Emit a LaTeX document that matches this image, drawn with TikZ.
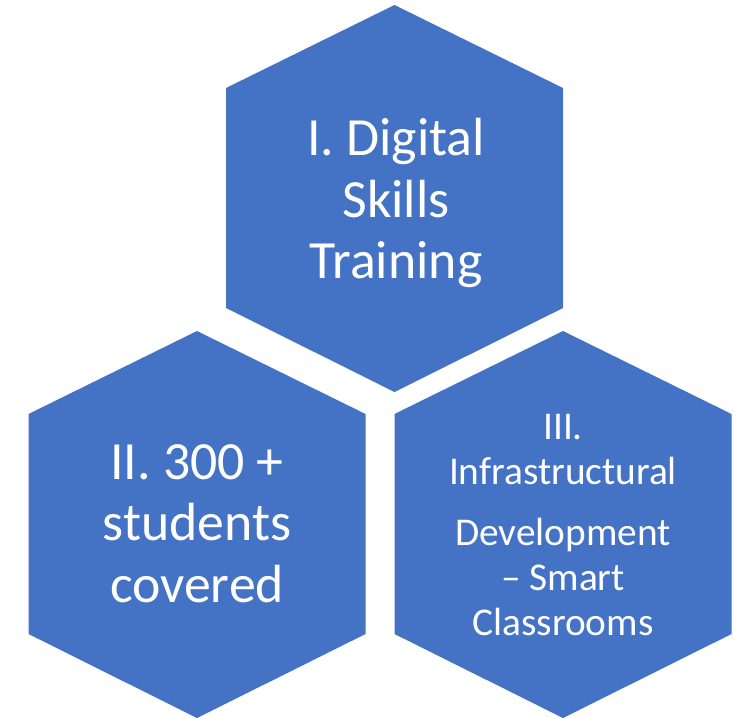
\documentclass[tikz,border=0pt]{standalone}
\usepackage{fontspec}
\setmainfont{Carlito}
\usepackage{xcolor}
\usepackage{tikz}
\usetikzlibrary{calc}
\definecolor{hexblue}{HTML}{4472C4}
\tikzset{
  hexfill/.style={fill=hexblue, draw=none},
  hextext/.style={text=white, align=center, inner sep=0pt},
  bigtext/.style={hextext, font=\fontsize{30.6pt}{34.9pt}\selectfont},
  smalltext/.style={hextext, font=\fontsize{22.4pt}{25.5pt}\selectfont}
}
% hexagon around a centre, pointy top
\newcommand{\hexpath}[1]{
  ($#1+(0,-193.5)$) -- ($#1+(168.5,-110.5)$) -- ($#1+(168.5,109.5)$)
  -- ($#1+(0,193.5)$) -- ($#1+(-168.5,109.5)$) -- ($#1+(-168.5,-110.5)$) -- cycle
}

\begin{document}
\begin{tikzpicture}[x=0.02cm, y=-0.02cm]
            \useasboundingbox (0,0) rectangle (742,717);

            \coordinate (ctop) at (394.5, 198.5);
            \coordinate (cleft) at (197, 524.5);
            \coordinate (cright) at (563, 524.5);

            \fill[hexfill] \hexpath{(ctop)};
            \fill[hexfill] \hexpath{(cleft)};
            \fill[hexfill] \hexpath{(cright)};

            \node[bigtext] (digital) at (396, 203) {I. Digital\\Skills\\Training};
            \node[bigtext] (students) at (197, 523.5) {II. 300 +\\students\\covered};
            \node[smalltext] (infra) at (563, 525)
            {III.\\Infrastructural\\[9pt]Development\\– Smart\\Classrooms};

        \end{tikzpicture}
\end{document}
